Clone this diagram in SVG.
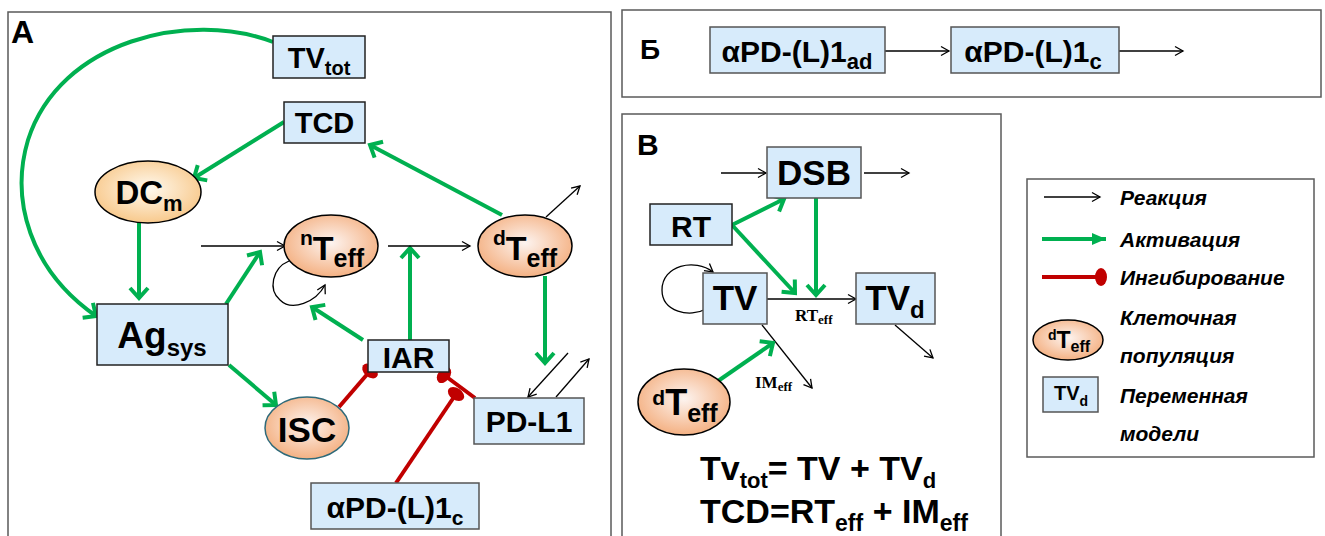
<svg xmlns="http://www.w3.org/2000/svg" width="1325" height="536" viewBox="0 0 1325 536">
<defs>
<style>
.frame{fill:#fff;stroke:#5a5a5a;stroke-width:1.5}
.box{fill:#d7ebfb;stroke:#222;stroke-width:1.5}
.box2{fill:#d7ebfb;stroke:#555;stroke-width:1.5}
.t{font-family:"Liberation Sans",Arial,sans-serif;font-weight:bold;fill:#000}
.s{font-family:"Liberation Serif","Times New Roman",serif;font-weight:bold;fill:#000}
.lg{font-family:"Liberation Sans",Arial,sans-serif;font-weight:bold;font-style:italic;font-size:21px;fill:#000}
.act{fill:none;stroke:#00b050;stroke-width:4;marker-end:url(#ga)}
.inh{fill:none;stroke:#c00000;stroke-width:4;marker-end:url(#ri)}
.rx{fill:none;stroke:#000;stroke-width:1.3;marker-end:url(#ba)}
.cell{fill:url(#gTeff);stroke:#000;stroke-width:1.5}
</style>
<radialGradient id="gTeff" cx="0.5" cy="0.45" r="0.55">
<stop offset="0" stop-color="#fdf4f0"/><stop offset="1" stop-color="#f4b183"/>
</radialGradient>
<radialGradient id="gDC" cx="0.5" cy="0.45" r="0.55">
<stop offset="0" stop-color="#fffaf0"/><stop offset="1" stop-color="#f8c98c"/>
</radialGradient>
<marker id="ga" markerUnits="userSpaceOnUse" markerWidth="26" markerHeight="26" viewBox="0 0 26 26" refX="13" refY="13" orient="auto">
<path d="M3,4 L13,13 L3,22" fill="none" stroke="#00b050" stroke-width="4"/>
</marker>
<marker id="ba" markerUnits="userSpaceOnUse" markerWidth="14" markerHeight="14" viewBox="0 0 14 14" refX="11" refY="7" orient="auto">
<path d="M3,2.5 L11,7 L3,11.5" fill="none" stroke="#000" stroke-width="1.3"/>
</marker>
<marker id="ri" markerUnits="userSpaceOnUse" markerWidth="24" markerHeight="24" viewBox="-12 -12 24 24" refX="0" refY="0" orient="auto">
<ellipse cx="0" cy="0" rx="6" ry="9" fill="#c00000"/>
</marker>
<marker id="gtri" markerUnits="userSpaceOnUse" markerWidth="16" markerHeight="16" viewBox="0 0 16 16" refX="14" refY="8" orient="auto">
<path d="M0,2 L14,8 L0,14 Z" fill="#00b050"/>
</marker>
</defs>

<!-- frames -->
<rect class="frame" x="8" y="12" width="603" height="540"/>
<rect class="frame" x="622" y="10" width="699" height="87"/>
<rect class="frame" x="622" y="114" width="379" height="440"/>
<rect class="frame" x="1027" y="179" width="287" height="278"/>

<text class="t" x="11" y="43" font-size="32">А</text>
<text class="t" x="640" y="59" font-size="28">Б</text>
<text class="t" x="637" y="155" font-size="30">В</text>

<!-- connectors -->
<g id="connectors">
<!-- panel A -->
<path class="act" d="M273,42 C190,10 60,40 28,140 C10,200 30,270 96,316"/>
<path class="act" d="M284,122 L194,178"/>
<path class="act" d="M502,215 L370,145"/>
<path class="act" d="M139,223 L139,298"/>
<path class="act" d="M226,304 L260,252"/>
<path class="act" d="M229,365 L276,405"/>
<path class="act" d="M363,340 L312,307"/>
<path class="act" d="M410,340 L410,248"/>
<path class="act" d="M545,276 L545,363"/>
<path class="rx" d="M201,246 L285,246"/>
<path class="rx" d="M388,246 L470,246"/>
<path class="rx" d="M546,217 L580,186"/>
<path class="rx" d="M289,261 C272,268 268,290 280,300 C292,312 316,302 325,285"/>
<path class="rx" d="M568,353 L528,397"/>
<path class="rx" d="M556,397 L589,359"/>
<path class="inh" d="M339,407 L370,371"/>
<path class="inh" d="M475,398 L444,375"/>
<path class="inh" d="M396,483 L456,394"/>
<!-- panel Б -->
<path class="rx" d="M885,51 L949,51"/>
<path class="rx" d="M1119,51 L1183,51"/>
<!-- panel В -->
<path class="rx" d="M721,173 L766,173"/>
<path class="rx" d="M864,173 L909,173"/>
<path class="rx" d="M767,299 L856,299"/>
<path class="rx" d="M895,325 L933,358"/>
<path class="rx" d="M762,325 L812,388"/>
<path class="rx" d="M706,309 C690,318 662,312 662,290 C662,265 695,258 713,272"/>
<path class="act" d="M732,225 L784,199"/>
<path class="act" d="M732,225 L795,293"/>
<path class="act" d="M816,198 L816,295"/>
<path class="act" d="M718,381 L773,343"/>
</g>

<!-- panel A nodes -->
<g id="TVtot">
<rect class="box" x="273" y="36" width="92" height="42"/>
<text class="t" x="319" y="68" font-size="29" text-anchor="middle">TV<tspan font-size="20" dy="7">tot</tspan></text>
</g>
<g id="TCD">
<rect class="box" x="284" y="102" width="81" height="41"/>
<text class="t" x="324.5" y="133" font-size="29" text-anchor="middle">TCD</text>
</g>
<g id="DCm">
<ellipse cx="148" cy="192" rx="53" ry="31" fill="url(#gDC)" stroke="#000" stroke-width="1.5"/>
<text class="t" x="149" y="204" font-size="33" text-anchor="middle">DC<tspan font-size="22" dy="7">m</tspan></text>
</g>
<g id="nTeff">
<ellipse class="cell" cx="331" cy="246" rx="47" ry="31"/>
<text class="t" x="332" y="260" font-size="34" text-anchor="middle"><tspan font-size="21" dy="-15">n</tspan><tspan dy="15">T</tspan><tspan font-size="25" dy="7">eff</tspan></text>
</g>
<g id="dTeff">
<ellipse class="cell" cx="525" cy="246" rx="47" ry="31"/>
<text class="t" x="525" y="260" font-size="34" text-anchor="middle"><tspan font-size="21" dy="-15">d</tspan><tspan dy="15">T</tspan><tspan font-size="25" dy="7">eff</tspan></text>
</g>
<g id="Agsys">
<rect class="box" x="97" y="304" width="131" height="61"/>
<text class="t" x="162" y="348" font-size="37" text-anchor="middle">Ag<tspan font-size="24" dy="8">sys</tspan></text>
</g>
<g id="IAR">
<rect class="box" x="368" y="340" width="81" height="32"/>
<text class="t" x="408.5" y="368" font-size="30" text-anchor="middle">IAR</text>
</g>
<g id="ISC">
<ellipse cx="307" cy="428" rx="42" ry="31" fill="url(#gTeff)" stroke="#2e6a7a" stroke-width="1.5"/>
<text class="t" x="307" y="442" font-size="35" text-anchor="middle">ISC</text>
</g>
<g id="PDL1">
<rect class="box2" x="474" y="398" width="110" height="46"/>
<text class="t" x="529" y="432" font-size="30" text-anchor="middle">PD-L1</text>
</g>
<g id="aPDc_A">
<rect class="box2" x="311" y="483" width="168" height="46"/>
<text class="t" x="395" y="518" font-size="30" text-anchor="middle">αPD-(L)1<tspan font-size="21" dy="7">c</tspan></text>
</g>

<!-- panel Б nodes -->
<g id="aPDad">
<rect class="box2" x="710" y="27" width="175" height="46"/>
<text class="t" x="797" y="62" font-size="30" text-anchor="middle">αPD-(L)1<tspan font-size="22" dy="7">ad</tspan></text>
</g>
<g id="aPDc_B">
<rect class="box2" x="951" y="27" width="168" height="46"/>
<text class="t" x="1033" y="62" font-size="30" text-anchor="middle">αPD-(L)1<tspan font-size="22" dy="7">c</tspan></text>
</g>

<!-- panel В nodes -->
<g id="DSB">
<rect class="box2" x="767" y="147" width="94" height="51"/>
<text class="t" x="814" y="185" font-size="35" text-anchor="middle">DSB</text>
</g>
<g id="RT">
<rect class="box" x="650" y="204" width="82" height="41"/>
<text class="t" x="691" y="237" font-size="30" text-anchor="middle">RT</text>
</g>
<g id="TV">
<rect class="box2" x="703" y="273" width="64" height="51"/>
<text class="t" x="735" y="310" font-size="35" text-anchor="middle">TV</text>
</g>
<g id="TVd">
<rect class="box2" x="856" y="273" width="79" height="51"/>
<text class="t" x="895" y="310" font-size="35" text-anchor="middle">TV<tspan font-size="24" dy="8">d</tspan></text>
</g>
<g id="dTeff_B">
<ellipse class="cell" cx="684" cy="402" rx="46" ry="33"/>
<text class="t" x="685" y="415" font-size="36" text-anchor="middle"><tspan font-size="21" dy="-10">d</tspan><tspan dy="10">T</tspan><tspan font-size="25" dy="7">eff</tspan></text>
</g>
<text class="s" x="795" y="321" font-size="17">RT<tspan font-size="13" dy="3">eff</tspan></text>
<text class="s" x="755" y="388" font-size="17">IM<tspan font-size="13" dy="3">eff</tspan></text>
<text class="t" x="700" y="480" font-size="34">Tv<tspan font-size="22" dy="8">tot</tspan><tspan dy="-8">= TV + TV</tspan><tspan font-size="22" dy="8">d</tspan></text>
<text class="t" x="700" y="523" font-size="34">TCD=RT<tspan font-size="23" dy="8">eff</tspan><tspan dy="-8"> + IM</tspan><tspan font-size="23" dy="8">eff</tspan></text>

<!-- legend -->
<g id="legend">
<path class="rx" d="M1044,197 L1100,197"/>
<text class="lg" x="1120" y="205">Реакция</text>
<path d="M1042,239 L1106,239" fill="none" stroke="#00b050" stroke-width="4" marker-end="url(#gtri)"/>
<text class="lg" x="1120" y="247">Активация</text>
<path d="M1042,277 L1101,277" fill="none" stroke="#c00000" stroke-width="4" marker-end="url(#ri)"/>
<text class="lg" x="1120" y="285">Ингибирование</text>
<ellipse class="cell" cx="1068" cy="340" rx="35" ry="20"/>
<text class="t" x="1069" y="348" font-size="23" text-anchor="middle"><tspan font-size="14" dy="-8">d</tspan><tspan dy="8">T</tspan><tspan font-size="16" dy="4">eff</tspan></text>
<text class="lg" x="1120" y="325">Клеточная</text>
<text class="lg" x="1120" y="363">популяция</text>
<rect class="box2" x="1043" y="377" width="55" height="35"/>
<text class="t" x="1071" y="400" font-size="20" text-anchor="middle">TV<tspan font-size="14" dy="6">d</tspan></text>
<text class="lg" x="1120" y="403">Переменная</text>
<text class="lg" x="1120" y="441">модели</text>
</g>
</svg>
